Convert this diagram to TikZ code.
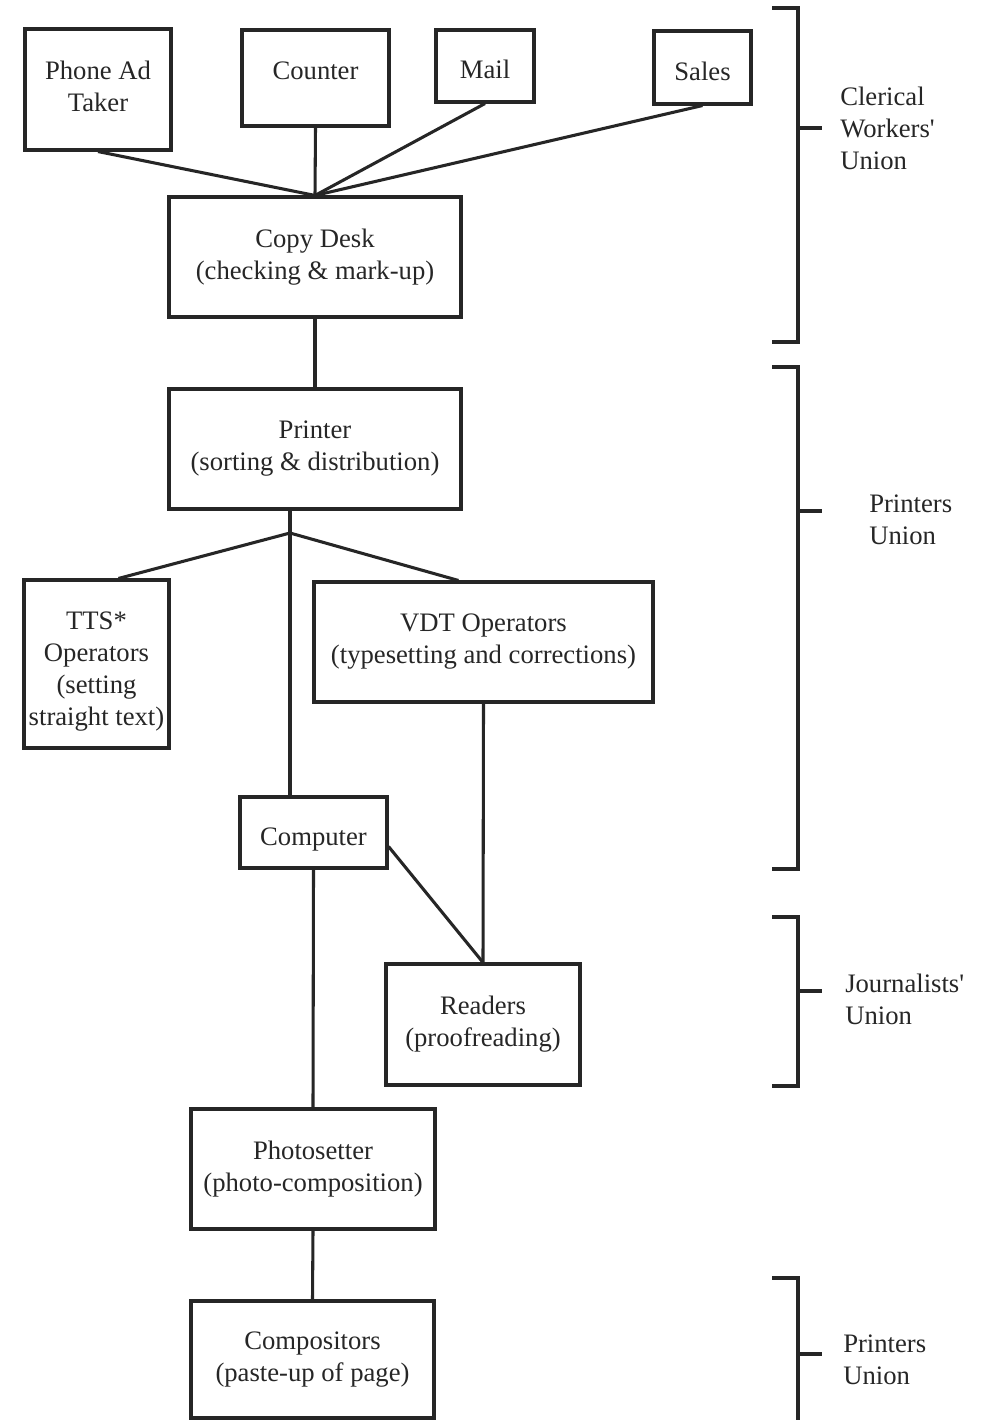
\documentclass[tikz,border=0pt]{standalone}
\usepackage{fontspec}
\setmainfont{Liberation Serif}
\definecolor{ink}{HTML}{262626}
\begin{document}
\begin{tikzpicture}[x=0.75pt,y=-0.75pt,
  every node/.style={text=ink},
  txt/.style={font=\fontsize{20}{24}\selectfont},
  box/.style={draw=ink, line width=2.3pt, align=center, inner sep=0pt, txt},
  sz/.style 2 args={minimum width=#1*0.75pt, minimum height=#2*0.75pt},
  conn/.style={draw=ink, line width=2.3pt},
  brk/.style={draw=ink, line width=2.3pt},
  lbl/.style={align=left, anchor=west, inner sep=0pt, txt}]
\useasboundingbox (0,0) rectangle (984,1420);

% boxes
\node[box, sz={146}{121}] (phone) at (98,89.5) {Phone Ad\\Taker\rule[-5pt]{0pt}{5pt}};
\node[box, sz={147}{96}, text depth=10.5pt] (counter) at (315.5,78) {Counter};
\node[box, sz={98}{72}, text height=19.5pt] (mail) at (485,66) {Mail};
\node[box, sz={97}{73}, text height=19.5pt] (sales) at (702.5,67.5) {Sales};
\node[box, sz={292}{120}] (copy) at (315,257) {Copy Desk\\(checking \& mark-up)};
\node[box, sz={292}{120}] (printer) at (315,449) {Printer\\(sorting \& distribution)};
\node[box, sz={145}{168}] (tts) at (96.5,664) {\rule{0pt}{24pt}TTS*\\Operators\\(setting\\straight text)};
\node[box, sz={339}{120}] (vdt) at (483.5,642) {VDT Operators\\(typesetting and corrections)};
\node[box, sz={147}{71}, text height=24pt] (computer) at (313.5,832.5) {Computer};
\node[box, sz={194}{121}] (readers) at (483,1024.5) {Readers\\(proofreading)};
\node[box, sz={244}{120}] (photo) at (313,1169) {Photosetter\\(photo-composition)};
\node[box, sz={243}{117}] (comp) at (312.5,1359.5) {Compositors\\(paste-up of page)};

% connectors
\draw[conn] (phone.south) -- (copy.north);
\draw[conn] (counter.south) -- (copy.north);
\draw[conn] (mail.south) -- (copy.north);
\draw[conn] (sales.south) -- (copy.north);
\draw[conn] (copy.south) -- (printer.north);
\coordinate (br) at (290,533);
\path (tts.north west) ++(96,0) coordinate (ttsin);
\path (vdt.north west) ++(146,0) coordinate (vdtin);
\path (computer.east) ++(0,14) coordinate (ce);
\draw[conn] (br |- printer.south) -- (br) -- (br |- computer.north);
\draw[conn] (ttsin) -- (br) -- (vdtin);
\draw[conn] (vdt.south) -- (readers.north);
\draw[conn] (ce) -- (readers.north);
\draw[conn] (computer.south) -- (photo.north);
\draw[conn] (photo.south) -- (comp.north);

% brackets
\draw[brk] (772,8) -- (798,8) -- (798,342) -- (772,342);
\draw[brk] (798,128) -- (822,128);
\node[lbl] (clerical) at (840,128) {Clerical\\Workers\textquotesingle\\Union};
\draw[brk] (772,367) -- (798,367) -- (798,869) -- (772,869);
\draw[brk] (798,511) -- (822,511);
\node[lbl] (printers1) at (869,520) {Printers\\Union};
\draw[brk] (772,917) -- (798,917) -- (798,1086) -- (772,1086);
\draw[brk] (798,991) -- (822,991);
\node[lbl] (journ) at (845,999) {Journalists\textquotesingle\\Union};
\draw[brk] (772,1278) -- (798,1278) -- (798,1420);
\draw[brk] (798,1354) -- (822,1354);
\node[lbl] (printers2) at (843,1360) {Printers\\Union};
\end{tikzpicture}
\end{document}
